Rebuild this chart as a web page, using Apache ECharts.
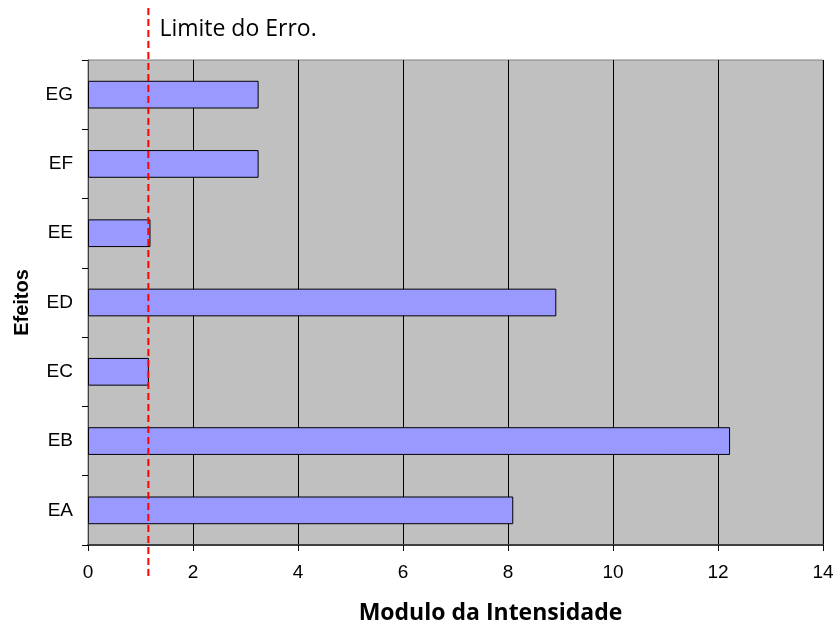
<!DOCTYPE html>
<html>
<head>
<meta charset="utf-8">
<script src="https://cdn.jsdelivr.net/npm/echarts@6/dist/echarts.min.js"></script>
<style>html,body{margin:0;padding:0;background:#fff}#c{width:837px;height:631px}</style>
</head>
<body>
<div id="c"></div>
<script>
const categories = ['EA', 'EB', 'EC', 'ED', 'EE', 'EF', 'EG'];
const values = [8.10, 12.23, 1.16, 8.92, 1.19, 3.25, 3.25];
const errorLimit = 1.15;
const errorLabel = 'Limite do Erro.';
const xTitle = 'Modulo da Intensidade';
const yTitle = 'Efeitos';

const chart = echarts.init(document.getElementById('c'), null, {renderer: 'canvas'});
chart.setOption({
  animation: false,
  backgroundColor: '#fff',
  grid: {left: 88, right: 14, top: 60, bottom: 86, show: true, backgroundColor: '#c0c0c0', borderColor: '#808080', borderWidth: 1},
  xAxis: {
    type: 'value', min: 0, max: 14, interval: 2,
    name: xTitle, nameLocation: 'middle', nameGap: 57,
    nameTextStyle: {fontFamily: 'Open Sans', fontWeight: 'bold', fontSize: 23, color: '#000', padding: [0, 0, 0, 70]},
    axisLine: {show: true, lineStyle: {color: '#404040', width: 2}},
    axisTick: {show: true, length: 6, lineStyle: {color: '#000'}},
    axisLabel: {fontFamily: 'Liberation Sans', fontSize: 19, color: '#000', margin: 18},
    splitLine: {show: true, lineStyle: {color: '#000', width: 1}}
  },
  yAxis: {
    type: 'category', data: categories,
    name: yTitle, nameLocation: 'middle', nameGap: 56, nameRotate: 90,
    nameTextStyle: {fontFamily: 'Liberation Sans', fontWeight: 'bold', fontSize: 20, color: '#000'},
    axisLine: {show: true, lineStyle: {color: '#404040', width: 1}},
    axisTick: {show: true, length: 6, inside: false, alignWithLabel: false, lineStyle: {color: '#000'}},
    axisLabel: {fontFamily: 'Liberation Sans', fontSize: 19, color: '#000', margin: 15},
    splitLine: {show: false}
  },
  series: [{
    type: 'bar', data: values, barWidth: '40%',
    itemStyle: {color: '#9999ff', borderColor: '#000', borderWidth: 1}
  }]
});

const px = chart.convertToPixel({xAxisIndex: 0}, errorLimit);
chart.setOption({
  graphic: [
    {type: 'line', shape: {x1: px, y1: 8, x2: px, y2: 578}, z: 100,
     style: {stroke: '#ff0000', lineWidth: 2, lineDash: [7, 4]}},
    {type: 'text', left: px + 11, top: 18, z: 100,
     style: {text: errorLabel, fontFamily: 'Open Sans', fontSize: 23, fill: '#000'}}
  ]
});
</script>
</body>
</html>
